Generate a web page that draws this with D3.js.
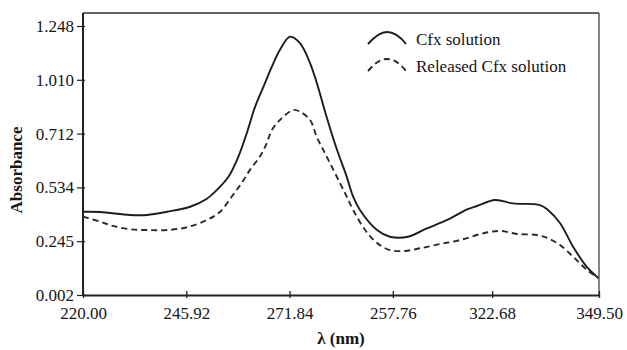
<!DOCTYPE html>
<html>
<head>
<meta charset="utf-8">
<script src="https://cdn.jsdelivr.net/npm/d3@7"></script>
<style>
  html, body { margin: 0; padding: 0; background: #fff; }
  svg { display: block; }
</style>
</head>
<body>
<svg id="chart" width="627" height="350"></svg>
<script>
// ---- data ----
const xTickValues = [220, 245.92, 271.84, 297.76, 322.68, 349.5];
const xTickLabels = ["220.00", "245.92", "271.84", "257.76", "322.68", "349.50"];
const yTickValues = [0.002, 0.245, 0.534, 0.712, 1.010, 1.248];
const yTickLabels = ["0.002", "0.245", "0.534", "0.712", "1.010", "1.248"];

const seriesNames = ["Cfx solution", "Released Cfx solution"];

const cfxWavelength = [220.0, 224.3, 231.8, 236.1, 241.1, 246.9, 251.0, 253.6, 256.5, 259.0, 261.1, 263.2, 265.3, 267.4, 269.4, 272.0, 274.5, 277.0, 278.7, 281.2, 283.7, 286.2, 287.8, 289.5, 293.8, 297.0, 301.6, 306.3, 311.4, 316.4, 318.9, 323.4, 327.9, 334.7, 336.7, 339.7, 343.0, 346.4, 349.3];
const cfxAbsorbance = [0.403, 0.402, 0.386, 0.386, 0.403, 0.430, 0.472, 0.520, 0.569, 0.636, 0.714, 0.861, 0.972, 1.068, 1.142, 1.201, 1.171, 1.083, 0.991, 0.800, 0.660, 0.569, 0.484, 0.413, 0.305, 0.269, 0.269, 0.314, 0.359, 0.416, 0.434, 0.466, 0.448, 0.439, 0.413, 0.343, 0.220, 0.130, 0.079];

const relWavelength = [220.0, 224.3, 227.5, 231.8, 236.1, 241.1, 246.1, 251.1, 254.4, 257.3, 259.8, 261.9, 264.4, 266.1, 267.4, 269.4, 272.8, 274.5, 277.0, 278.7, 280.3, 282.0, 284.5, 286.2, 287.8, 290.8, 293.8, 297.0, 300.8, 304.6, 309.6, 314.6, 320.4, 324.7, 328.9, 333.9, 336.7, 339.7, 343.0, 346.5, 349.3];
const relAbsorbance = [0.377, 0.350, 0.327, 0.309, 0.305, 0.305, 0.320, 0.359, 0.403, 0.484, 0.548, 0.592, 0.636, 0.680, 0.732, 0.787, 0.843, 0.833, 0.787, 0.700, 0.658, 0.614, 0.548, 0.484, 0.413, 0.305, 0.237, 0.205, 0.201, 0.213, 0.232, 0.251, 0.287, 0.300, 0.284, 0.278, 0.261, 0.228, 0.175, 0.115, 0.079];

// ---- layout ----
const FONT = '"Liberation Serif"';
const mLeft = 83, mRight = 599, mTop = 13, mBottom = 295, yTopTick = 26;
const svg = d3.select("#chart");

const x = d3.scaleLinear().domain([xTickValues[0], xTickValues[xTickValues.length - 1]]).range([mLeft, mRight]);
const yStep = (mBottom - yTopTick) / (yTickValues.length - 1);
const y = d3.scaleLinear().domain(yTickValues).range(yTickValues.map((d, i) => mBottom - i * yStep));

// frame: top and right
svg.append("line").attr("x1", mLeft).attr("x2", mRight).attr("y1", mTop).attr("y2", mTop)
  .attr("stroke", "#333").attr("stroke-width", 1.6);
svg.append("line").attr("x1", mRight).attr("x2", mRight).attr("y1", mTop).attr("y2", mBottom)
  .attr("stroke", "#444").attr("stroke-width", 1.3);

// x axis
const xAxis = d3.axisBottom(x).tickValues(xTickValues)
  .tickFormat((d, i) => xTickLabels[i]).tickSizeInner(3).tickSizeOuter(0).tickPadding(9);
const gx = svg.append("g").attr("transform", `translate(0,${mBottom})`).call(xAxis);
gx.attr("font-family", null).attr("font-size", 17);
gx.select(".domain").attr("stroke", "#222").attr("stroke-width", 2);
gx.selectAll(".tick line").attr("stroke", "#222").attr("stroke-width", 1.3).attr("y1", -4);
gx.selectAll(".tick text").attr("fill", "#151515").attr("font-size", 17).style("font-family", FONT);

// y axis
const yAxis = d3.axisLeft(y).tickValues(yTickValues)
  .tickFormat((d, i) => yTickLabels[i]).tickSizeInner(6).tickSizeOuter(0).tickPadding(3);
const gy = svg.append("g").attr("transform", `translate(${mLeft},0)`).call(yAxis);
gy.attr("font-family", null).attr("font-size", 17);
gy.select(".domain").attr("stroke", "#222").attr("stroke-width", 2).attr("d", `M0,${mTop}V${mBottom}`);
gy.selectAll(".tick line").attr("stroke", "#222").attr("stroke-width", 1.2).attr("x2", -6).attr("x1", 2);
gy.selectAll(".tick text").attr("fill", "#151515").attr("font-size", 17).style("font-family", FONT);

// axis titles
svg.append("text").attr("x", (mLeft + mRight) / 2).attr("y", 344).attr("text-anchor", "middle")
  .attr("fill", "#151515").attr("font-size", 17).attr("font-weight", "bold").style("font-family", FONT)
  .text("λ (nm)");
svg.append("text").attr("transform", "translate(22,170) rotate(-90)").attr("text-anchor", "middle")
  .attr("fill", "#151515").attr("font-size", 17).attr("font-weight", "bold").style("font-family", FONT)
  .text("Absorbance");

// lines
const line = d3.line().x(d => x(d[0])).y(d => y(d[1])).curve(d3.curveCatmullRom.alpha(0.5));
const cfx = cfxWavelength.map((w, i) => [w, cfxAbsorbance[i]]);
const rel = relWavelength.map((w, i) => [w, relAbsorbance[i]]);

svg.append("path").datum(cfx).attr("d", line).attr("fill", "none")
  .attr("stroke", "#1c1c1c").attr("stroke-width", 1.9);
svg.append("path").datum(rel).attr("d", line).attr("fill", "none")
  .attr("stroke", "#2a2a2a").attr("stroke-width", 1.9).attr("stroke-dasharray", "6,4");

// legend
const hump = "M368,44 C376,35 381,32 387,32 C393,32 399,35 406,44";
svg.append("path").attr("d", hump).attr("fill", "none").attr("stroke", "#1c1c1c").attr("stroke-width", 1.9);
svg.append("path").attr("d", hump).attr("transform", "translate(0,27)").attr("fill", "none")
  .attr("stroke", "#2a2a2a").attr("stroke-width", 1.9).attr("stroke-dasharray", "6,4");
svg.append("text").attr("x", 416).attr("y", 44.5).attr("fill", "#151515")
  .attr("font-size", 17).style("font-family", FONT).text(seriesNames[0]);
svg.append("text").attr("x", 416).attr("y", 72).attr("fill", "#151515")
  .attr("font-size", 17).style("font-family", FONT).text(seriesNames[1]);
</script>
</body>
</html>
